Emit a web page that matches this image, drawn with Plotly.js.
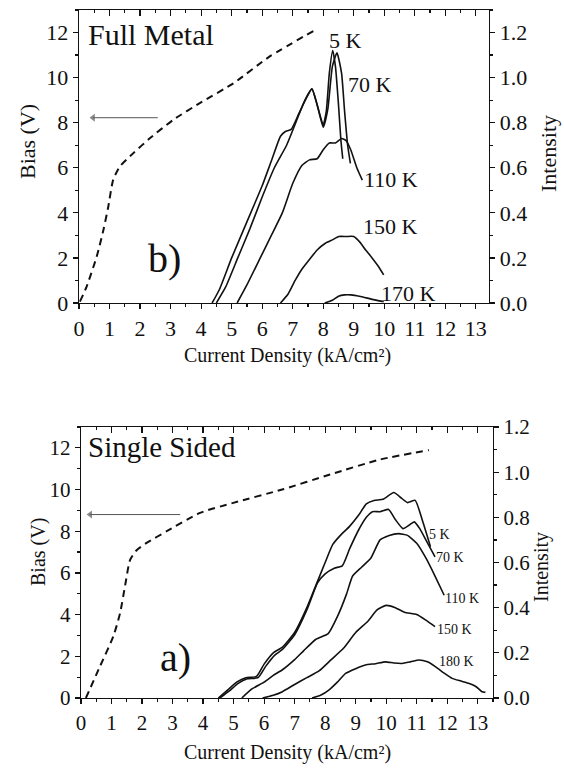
<!DOCTYPE html>
<html><head><meta charset="utf-8">
<script src="https://cdn.plot.ly/plotly-3.0.1.min.js"></script>
<style>html,body{margin:0;padding:0;background:#fff}#chart{width:564px;height:770px}</style>
</head><body><div id="chart"></div>
<script>
// ---------- Panel b) Full Metal ----------
const fmBiasX = [0.03, 0.25, 0.58, 0.8, 0.96, 1.12, 1.34, 1.78, 2.33, 3.09, 3.97, 5.06, 6.26, 7.8];
const fmBiasV = [0.06, 0.73, 2.06, 3.24, 4.28, 5.47, 6.06, 6.65, 7.32, 8.13, 8.88, 9.75, 10.95, 12.16];

const fm5X  = [4.36, 4.6, 5.0, 5.5, 6.0, 6.3, 6.6, 6.75, 6.95, 7.2, 7.45, 7.63, 7.8, 8.0, 8.1, 8.2, 8.31, 8.4, 8.5, 8.58, 8.64];
const fm5I  = [0, 0.06, 0.2, 0.36, 0.52, 0.63, 0.74, 0.76, 0.77, 0.84, 0.91, 0.95, 0.88, 0.79, 0.85, 1.02, 1.12, 1.05, 0.88, 0.72, 0.64];
const fm70X = [4.5, 4.8, 5.2, 5.6, 6.0, 6.4, 6.8, 7.1, 7.4, 7.63, 7.8, 8.0, 8.15, 8.3, 8.45, 8.6, 8.7, 8.8, 8.89];
const fm70I = [0, 0.07, 0.2, 0.33, 0.47, 0.6, 0.7, 0.8, 0.9, 0.95, 0.88, 0.78, 0.86, 1.05, 1.11, 1.02, 0.85, 0.7, 0.62];
const fm110X = [5.18, 5.5, 5.9, 6.3, 6.66, 7.0, 7.3, 7.55, 7.8, 8.0, 8.2, 8.4, 8.6, 8.75, 8.9, 9.1, 9.28];
const fm110I = [0, 0.08, 0.19, 0.3, 0.40, 0.53, 0.61, 0.635, 0.64, 0.68, 0.71, 0.71, 0.73, 0.72, 0.68, 0.6, 0.545];
const fm150X = [6.6, 6.85, 7.08, 7.3, 7.53, 7.8, 8.07, 8.3, 8.51, 8.75, 9.0, 9.2, 9.39, 9.6, 9.82, 9.98];
const fm150I = [0, 0.04, 0.10, 0.15, 0.19, 0.235, 0.265, 0.28, 0.295, 0.295, 0.295, 0.27, 0.235, 0.2, 0.16, 0.125];
const fm170X = [8.05, 8.3, 8.5, 8.7, 8.9, 9.1, 9.3, 9.6, 9.98];
const fm170I = [0, 0.012, 0.03, 0.036, 0.036, 0.032, 0.027, 0.016, 0.006];

// ---------- Panel a) Single Sided ----------
const ssBiasX = [0.16, 0.62, 1.06, 1.28, 1.44, 1.61, 1.83, 2.15, 2.81, 3.9, 4.99, 6.59, 8.16, 9.8, 11.4];
const ssBiasV = [0, 1.51, 2.96, 4.07, 5.35, 6.63, 7.1, 7.44, 8.0, 8.88, 9.36, 10.0, 10.72, 11.44, 11.89];

const ss5X  = [4.5, 4.8, 5.1, 5.4, 5.75, 6.0, 6.3, 6.6, 7.0, 7.4, 7.7, 8.0, 8.25, 8.5, 8.8, 9.1, 9.35, 9.6, 9.9, 10.25, 10.5, 10.7, 10.95, 11.2, 11.45];
const ss5I  = [0, 0.035, 0.07, 0.09, 0.095, 0.15, 0.2, 0.225, 0.29, 0.4, 0.5, 0.6, 0.68, 0.72, 0.76, 0.81, 0.86, 0.875, 0.88, 0.91, 0.885, 0.865, 0.875, 0.78, 0.67];
const ss70X = [4.55, 4.85, 5.15, 5.45, 5.8, 6.05, 6.35, 6.6, 7.0, 7.4, 7.75, 8.0, 8.3, 8.56, 8.8, 9.1, 9.35, 9.55, 9.8, 10.08, 10.3, 10.55, 10.75, 10.92, 11.1, 11.3, 11.6];
const ss70I = [0, 0.03, 0.065, 0.085, 0.09, 0.14, 0.19, 0.215, 0.28, 0.39, 0.51, 0.55, 0.575, 0.585, 0.66, 0.745, 0.8, 0.825, 0.825, 0.835, 0.79, 0.75, 0.765, 0.78, 0.75, 0.7, 0.625];
const ss110X = [5.27, 5.6, 6.0, 6.3, 6.6, 7.0, 7.3, 7.7, 8.1, 8.4, 8.7, 8.9, 9.2, 9.5, 9.8, 10.1, 10.4, 10.7, 11.0, 11.3, 11.6, 11.9];
const ss110I = [0, 0.04, 0.07, 0.1, 0.125, 0.17, 0.21, 0.26, 0.285, 0.36, 0.46, 0.54, 0.58, 0.62, 0.7, 0.72, 0.728, 0.72, 0.685, 0.62, 0.54, 0.455];
const ss150X = [5.95, 6.3, 6.6, 7.0, 7.4, 7.8, 8.2, 8.6, 9.0, 9.4, 9.7, 10.0, 10.3, 10.6, 11.0, 11.3, 11.6];
const ss150I = [0, 0.012, 0.028, 0.06, 0.09, 0.12, 0.17, 0.22, 0.29, 0.34, 0.39, 0.41, 0.40, 0.38, 0.37, 0.345, 0.316];
const ss180X = [7.57, 7.85, 8.12, 8.4, 8.67, 9.0, 9.32, 9.65, 9.98, 10.25, 10.52, 10.8, 11.07, 11.35, 11.61, 11.9, 12.16, 12.45, 12.7, 12.95, 13.14, 13.25];
const ss180I = [0, 0.012, 0.035, 0.07, 0.109, 0.13, 0.146, 0.152, 0.16, 0.155, 0.153, 0.16, 0.168, 0.16, 0.139, 0.11, 0.087, 0.075, 0.065, 0.05, 0.028, 0.025];

// labels
const fmTempLabels = ['5 K', '70 K', '110 K', '150 K', '170 K'];
const fmTempPos = [[8.72, 11.64], [9.54, 9.69], [10.23, 5.47], [10.2, 3.38], [10.79, 0.44]];
const ssTempLabels = ['5 K', '70 K', '110 K', '150 K', '180 K'];
const ssTempPos = [[11.75, 7.84], [12.1, 6.73], [12.48, 4.76], [12.25, 3.27], [12.31, 1.73]];

// arrows pointing to the bias (left) axis: [tail x, head x, level]
const fmArrowX = [2.58, 0.46]; const fmArrowV = [8.22, 8.22];
const ssArrowX = [3.25, 0.30]; const ssArrowV = [8.8, 8.8];

const FONT = "'Liberation Serif', 'Times New Roman', serif";
const INK = '#111';

function solid(x, y, xa, ya, name) {
  return {x: x, y: y, xaxis: xa, yaxis: ya, name: name, mode: 'lines', type: 'scatter',
          line: {color: INK, width: 1.6, shape: 'spline', smoothing: 0.5}, hoverinfo: 'skip', showlegend: false};
}
function dashed(x, y, xa, ya) {
  return {x: x, y: y, xaxis: xa, yaxis: ya, mode: 'lines', type: 'scatter',
          line: {color: INK, width: 2, dash: '7px,5px', shape: 'spline', smoothing: 0.6}, hoverinfo: 'skip', showlegend: false};
}
function arrow(x, y, xa, ya) {
  return {x: x, y: y, xaxis: xa, yaxis: ya, mode: 'lines+markers', type: 'scatter',
          line: {color: '#555', width: 1},
          marker: {symbol: 'triangle-left', size: [0, 7], color: '#555', line: {width: 0}},
          hoverinfo: 'skip', showlegend: false};
}

const traces = [
  dashed(fmBiasX, fmBiasV, 'x', 'y'),
  arrow(fmArrowX, fmArrowV, 'x', 'y'),
  solid(fm5X, fm5I, 'x2', 'y2', '5 K'),
  solid(fm70X, fm70I, 'x2', 'y2', '70 K'),
  solid(fm110X, fm110I, 'x2', 'y2', '110 K'),
  solid(fm150X, fm150I, 'x2', 'y2', '150 K'),
  solid(fm170X, fm170I, 'x2', 'y2', '170 K'),
  dashed(ssBiasX, ssBiasV, 'x3', 'y3'),
  arrow(ssArrowX, ssArrowV, 'x3', 'y3'),
  solid(ss5X, ss5I, 'x4', 'y4', '5 K'),
  solid(ss70X, ss70I, 'x4', 'y4', '70 K'),
  solid(ss110X, ss110I, 'x4', 'y4', '110 K'),
  solid(ss150X, ss150I, 'x4', 'y4', '150 K'),
  solid(ss180X, ss180I, 'x4', 'y4', '180 K')
];

function P(px) { return px / 564; }
function Q(py) { return 1 - py / 770; }

function baseAxis(extra, fs) {
  return Object.assign({
    showline: true, linecolor: INK, linewidth: 1.3, showgrid: false, zeroline: false,
    ticks: 'outside', ticklen: 5, tickwidth: 1.2, tickcolor: INK,
    tickfont: {family: FONT, size: fs, color: INK}, fixedrange: true
  }, extra);
}

const topX = [0, 13.43], botX = [0, 13.5];
const layout = {
  width: 564, height: 770,
  margin: {l: 0, r: 0, t: 0, b: 0},
  paper_bgcolor: '#fff', plot_bgcolor: 'rgba(0,0,0,0)',
  showlegend: false,
  font: {family: FONT, color: INK},
  xaxis: baseAxis({domain: [P(79), P(489)], range: topX, anchor: 'y', side: 'bottom', tick0: 0, dtick: 1,
    minor: {dtick: 0.5, ticks: 'outside', ticklen: 3, tickcolor: INK}}, 22),
  xaxis2: baseAxis({overlaying: 'x', range: topX, anchor: 'y2', side: 'top', tick0: 0, dtick: 1,
    ticks: 'inside', ticklen: 6, showticklabels: false,
    minor: {dtick: 0.5, ticks: 'inside', ticklen: 3, tickcolor: INK}}, 22),
  yaxis: baseAxis({domain: [Q(303), Q(10)], range: [0, 13], anchor: 'x', side: 'left', tick0: 0, dtick: 2,
    minor: {dtick: 1, ticks: 'outside', ticklen: 3, tickcolor: INK}}, 22),
  yaxis2: baseAxis({overlaying: 'y', range: [0, 1.3], anchor: 'x2', side: 'right', tick0: 0, dtick: 0.2,
    tickformat: '.1f', minor: {dtick: 0.1, ticks: 'outside', ticklen: 3, tickcolor: INK}}, 22),
  xaxis3: baseAxis({domain: [P(81), P(493)], range: botX, anchor: 'y3', side: 'bottom', tick0: 0, dtick: 1,
    minor: {dtick: 0.5, ticks: 'outside', ticklen: 3, tickcolor: INK}}, 21),
  xaxis4: baseAxis({overlaying: 'x3', range: botX, anchor: 'y4', side: 'top', tick0: 0, dtick: 1,
    ticks: 'inside', ticklen: 6, showticklabels: false,
    minor: {dtick: 0.5, ticks: 'inside', ticklen: 3, tickcolor: INK}}, 21),
  yaxis3: baseAxis({domain: [Q(698), Q(427)], range: [0, 13], anchor: 'x3', side: 'left', tick0: 0, dtick: 2,
    minor: {dtick: 1, ticks: 'outside', ticklen: 3, tickcolor: INK}}, 21),
  yaxis4: baseAxis({overlaying: 'y3', range: [0, 1.2], anchor: 'x4', side: 'right', tick0: 0, dtick: 0.2,
    tickformat: '.1f', minor: {dtick: 0.1, ticks: 'outside', ticklen: 3, tickcolor: INK}}, 21),
  annotations: []
};

const A = layout.annotations;
function txt(text, x, y, size, opts) {
  A.push(Object.assign({text: text, x: x, y: y, xref: 'paper', yref: 'paper', showarrow: false,
    font: {family: FONT, size: size, color: INK}, xanchor: 'center', yanchor: 'middle'}, opts || {}));
}
// axis titles
txt('Bias (V)', P(28), Q(142), 22, {textangle: -90});
txt('Intensity', P(549), Q(154), 22, {textangle: -90});
txt('Current Density (kA/cm²)', P(287), Q(356), 20);
txt('Bias (V)', P(38), Q(552), 20, {textangle: -90});
txt('Intensity', P(541), Q(567), 20, {textangle: -90});
txt('Current Density (kA/cm²)', P(287), Q(752), 20);
// panel labels
txt('Full Metal', P(86), Q(35), 30, {xanchor: 'left'});
txt('Single Sided', P(86), Q(447), 29, {xanchor: 'left'});
txt('b)', P(164), Q(258), 40);
txt('a)', P(175), Q(657), 40);
// temperature labels
fmTempLabels.forEach((t, i) => A.push({text: t, x: fmTempPos[i][0], y: fmTempPos[i][1], xref: 'x', yref: 'y',
  showarrow: false, font: {family: FONT, size: 22, color: INK}}));
ssTempLabels.forEach((t, i) => A.push({text: t, x: ssTempPos[i][0], y: ssTempPos[i][1], xref: 'x3', yref: 'y3',
  showarrow: false, font: {family: FONT, size: 14, color: INK}}));

Plotly.newPlot('chart', traces, layout, {staticPlot: true, displayModeBar: false});
</script></body></html>
